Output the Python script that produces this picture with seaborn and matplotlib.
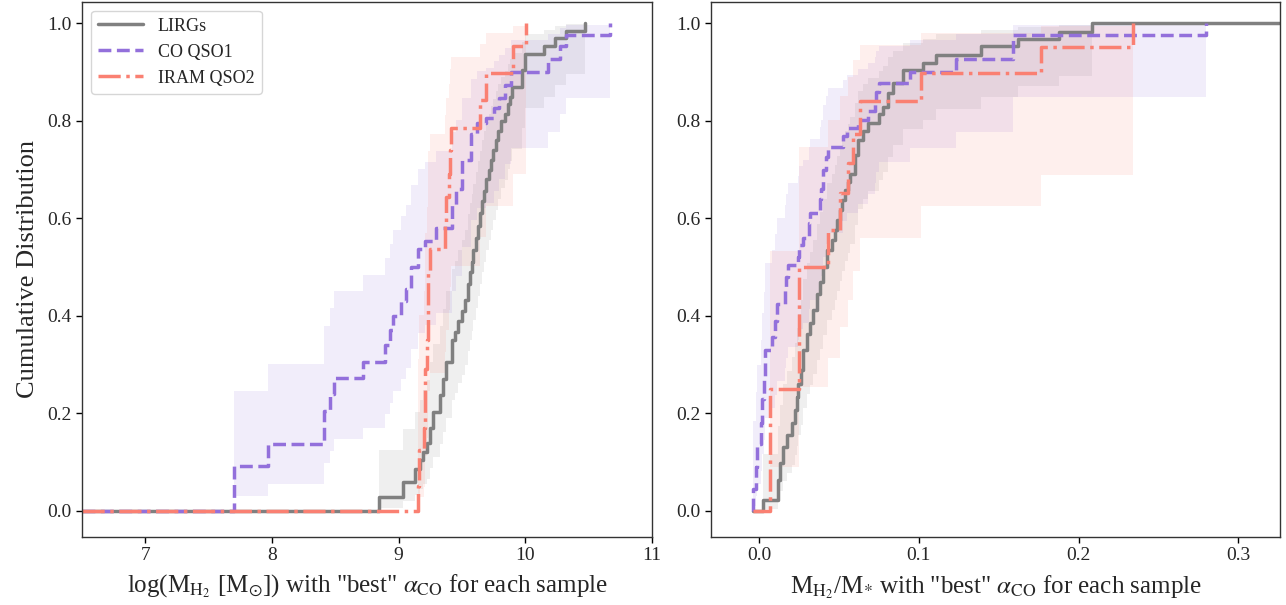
import numpy as np
import matplotlib
matplotlib.use("Agg")
import matplotlib.pyplot as plt
import seaborn as sns

sns.set_style("ticks")
plt.rcParams["font.family"] = ["Liberation Serif", "DejaVu Serif"]
plt.rcParams["mathtext.fontset"] = "stix"

# ---------------- data ----------------
samples = ["LIRGs", "CO QSO1", "IRAM QSO2"]

# left panel: log(M_H2) step positions and cumulative levels
lirg_mh2 = [8.846, 9.036, 9.128, 9.168, 9.19, 9.22, 9.246, 9.272, 9.325, 9.35,
            9.377, 9.417, 9.443, 9.47, 9.50, 9.52, 9.549, 9.56, 9.575, 9.588,
            9.61, 9.625, 9.64, 9.66, 9.675, 9.69, 9.71, 9.73, 9.746, 9.765,
            9.785, 9.81, 9.838, 9.86, 9.877, 9.898, 9.97, 10.0, 10.15, 10.237,
            10.324, 10.47]
lirg_mh2_cdf = [0.028, 0.059, 0.085, 0.104, 0.121, 0.138, 0.17, 0.203, 0.237, 0.27,
                0.305, 0.35, 0.367, 0.39, 0.41, 0.432, 0.466, 0.49, 0.51, 0.534,
                0.56, 0.585, 0.61, 0.635, 0.657, 0.68, 0.70, 0.72, 0.74, 0.76,
                0.78, 0.80, 0.815, 0.835, 0.85, 0.87, 0.905, 0.937, 0.954, 0.971,
                0.985, 1.0]

qso1_mh2 = [7.70, 7.965, 8.41, 8.455, 8.49, 8.72, 8.89, 8.93, 8.955, 9.02,
            9.06, 9.10, 9.155, 9.205, 9.298, 9.417, 9.456, 9.496, 9.568, 9.62,
            9.69, 9.75, 9.79, 9.84, 9.89, 10.18, 10.27, 10.32, 10.67]
qso1_mh2_cdf = [0.091, 0.137, 0.205, 0.24, 0.273, 0.305, 0.34, 0.37, 0.40, 0.43,
                0.455, 0.50, 0.537, 0.554, 0.581, 0.628, 0.66, 0.719, 0.773, 0.795,
                0.805, 0.826, 0.847, 0.873, 0.901, 0.926, 0.954, 0.976, 1.0]

qso2_mh2 = [9.155, 9.158, 9.20, 9.205, 9.227, 9.23, 9.246, 9.365, 9.37, 9.40,
            9.405, 9.41, 9.64, 9.69, 9.904, 10.008]
qso2_mh2_cdf = [0.05, 0.124, 0.17, 0.29, 0.35, 0.49, 0.537, 0.59, 0.644, 0.69,
                0.74, 0.786, 0.843, 0.899, 0.953, 1.0]

# right panel: M_H2/M* step positions and cumulative levels
lirg_frac = [0.0027, 0.012, 0.0131, 0.0152, 0.0173, 0.0204, 0.0225, 0.0235, 0.0246, 0.026,
             0.0277, 0.0298, 0.0319, 0.034, 0.036, 0.038, 0.0402, 0.0423, 0.0454, 0.0475,
             0.049, 0.0506, 0.052, 0.0538, 0.0555, 0.057, 0.060, 0.062, 0.0648, 0.0683,
             0.0751, 0.0777, 0.0808, 0.084, 0.0902, 0.1027, 0.111, 0.139, 0.162, 0.188,
             0.2085]
lirg_frac_cdf = [0.022, 0.063, 0.097, 0.131, 0.155, 0.179, 0.206, 0.233, 0.26, 0.288,
                 0.329, 0.363, 0.385, 0.411, 0.445, 0.47, 0.50, 0.535, 0.555, 0.577,
                 0.597, 0.617, 0.638, 0.658, 0.675, 0.692, 0.730, 0.761, 0.78, 0.795,
                 0.815, 0.829, 0.857, 0.877, 0.904, 0.918, 0.935, 0.954, 0.969, 0.983,
                 1.0]

qso1_frac = [-0.004, -0.002, -0.001, 0.001, 0.002, 0.003, 0.004, 0.008, 0.010, 0.011,
             0.0163, 0.017, 0.0183, 0.0246, 0.025, 0.0277, 0.031, 0.0319, 0.0381, 0.039,
             0.040, 0.042, 0.043, 0.0527, 0.0548, 0.062, 0.068, 0.0725, 0.0735, 0.075,
             0.0946, 0.1235, 0.159, 0.28]
qso1_frac_cdf = [0.045, 0.09, 0.136, 0.18, 0.23, 0.27, 0.33, 0.357, 0.39, 0.425,
                 0.455, 0.48, 0.504, 0.52, 0.545, 0.56, 0.59, 0.61, 0.64, 0.66,
                 0.70, 0.725, 0.747, 0.77, 0.785, 0.802, 0.82, 0.84, 0.86, 0.877,
                 0.901, 0.926, 0.977, 1.0]

qso2_frac = [0.0069, 0.025, 0.0434, 0.051, 0.056, 0.059, 0.063, 0.1012, 0.1765, 0.234]
qso2_frac_cdf = [0.25, 0.50, 0.576, 0.651, 0.713, 0.774, 0.84, 0.899, 0.951, 1.0]

# effective sample sizes controlling the width of the confidence bands
n_eff = {"LIRGs": 45, "CO QSO1": 30, "IRAM QSO2": 12}

colors = {"LIRGs": "gray", "CO QSO1": "mediumpurple", "IRAM QSO2": "salmon"}
styles = {"LIRGs": "-", "CO QSO1": "--", "IRAM QSO2": "-."}

left_data = {"LIRGs": (lirg_mh2, lirg_mh2_cdf),
             "CO QSO1": (qso1_mh2, qso1_mh2_cdf),
             "IRAM QSO2": (qso2_mh2, qso2_mh2_cdf)}
right_data = {"LIRGs": (lirg_frac, lirg_frac_cdf),
              "CO QSO1": (qso1_frac, qso1_frac_cdf),
              "IRAM QSO2": (qso2_frac, qso2_frac_cdf)}


def wilson(p, n, z=1.96):
    p = np.asarray(p, float)
    den = 1 + z ** 2 / n
    c = (p + z ** 2 / (2 * n)) / den
    h = z * np.sqrt(p * (1 - p) / n + z ** 2 / (4 * n ** 2)) / den
    return np.clip(c - h, 0, 1), np.clip(c + h, 0, 1)


fig = plt.figure(figsize=(12.86, 6.05), dpi=100)
ax1 = fig.add_axes([0.0638, 0.1124, 0.4432, 0.8851])
ax2 = fig.add_axes([0.5529, 0.1124, 0.4424, 0.8851])

LX = (6.5, 11.0)
RX = (-0.03, 0.326)
YL = (-0.054, 1.045)


def draw(ax, data, x_start, x_end_for=None, x_end=None, with_label=False):
    for s in samples:
        x, cdf = data[s]
        assert len(x) == len(cdf)
        x = np.asarray(x, float)
        cdf = np.asarray(cdf, float)
        lo, hi = wilson(cdf, n_eff[s])
        ax.fill_between(x, lo, hi, step="post", color=colors[s], alpha=0.12, lw=0)
        xs = np.r_[x_start, x]
        ys = np.r_[0.0, cdf]
        if x_end_for == s:
            xs = np.r_[xs, x_end]
            ys = np.r_[ys, 1.0]
        sns.lineplot(x=xs, y=ys, estimator=None, sort=False, drawstyle="steps-post",
                     color=colors[s], linestyle=styles[s], lw=2.5, ax=ax,
                     label=s if with_label else None)


draw(ax1, left_data, LX[0], with_label=True)
right_start = min(min(v[0]) for v in right_data.values())
draw(ax2, right_data, right_start, x_end_for="LIRGs", x_end=RX[1])

ax1.set_xlim(*LX)
ax2.set_xlim(*RX)
for ax in (ax1, ax2):
    ax.set_ylim(*YL)
    ax.set_yticks([0.0, 0.2, 0.4, 0.6, 0.8, 1.0])
    ax.tick_params(labelsize=14, length=4, width=1, color="black")
    for sp in ax.spines.values():
        sp.set_color("#333333")
        sp.set_linewidth(1.0)
ax1.set_xticks([7, 8, 9, 10, 11])
ax2.set_xticks([0.0, 0.1, 0.2, 0.3])

ax1.set_xlabel(r'log(M$_{\mathrm{H_2}}$ [M$_{\odot}$]) with "best" $\alpha_{\mathrm{CO}}$ for each sample',
               fontsize=18, labelpad=6)
ax2.set_xlabel(r'M$_{\mathrm{H_2}}$/M$_{*}$ with "best" $\alpha_{\mathrm{CO}}$ for each sample',
               fontsize=18, labelpad=6)
ax1.set_ylabel("Cumulative Distribution", fontsize=19, labelpad=6)
ax2.set_ylabel("")

if ax2.get_legend() is not None:
    ax2.get_legend().remove()
ax1.legend(loc="upper left", fontsize=13, handlelength=2.5, borderaxespad=0.5)

fig.savefig("out.png", dpi=100)
